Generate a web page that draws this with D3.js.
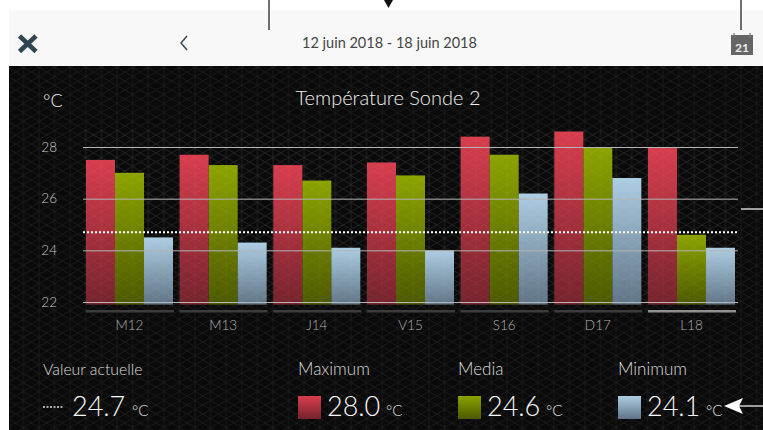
<!DOCTYPE html>
<html>
<head>
<meta charset="utf-8">
<script src="https://cdn.jsdelivr.net/npm/d3@7"></script>
<style>
  html, body { margin: 0; padding: 0; background: #fff; overflow: hidden; }
  text { font-family: Lato, sans-serif; }
</style>
</head>
<body>
<div id="chart"></div>
<script>

// Data
var days = ['M12', 'M13', 'J14', 'V15', 'S16', 'D17', 'L18'];
var series = ['Maximum', 'Media', 'Minimum'];
var maxValues = [27.5, 27.7, 27.3, 27.4, 28.4, 28.6, 28.0];
var meanValues = [27.0, 27.3, 26.7, 26.9, 27.7, 28.0, 24.6];
var minValues = [24.5, 24.3, 24.1, 24.0, 26.2, 26.8, 24.1];
var yTicks = [22, 24, 26, 28];
var currentValue = 24.7;
var legendValues = ['28.0', '24.6', '24.1'];

var seriesValues = [maxValues, meanValues, minValues];
var seriesColors = [
    ['#d83d4d', '#75232d'],
    ['#8ca300', '#4c5900'],
    ['#adcde2', '#5f7486']
];

var width = 763, height = 430;

var svg = d3.select('#chart').append('svg')
    .attr('width', width)
    .attr('height', height)
    .style('display', 'block');

var defs = svg.append('defs');

// Faint lattice behind the chart
var lattice = defs.append('pattern')
    .attr('id', 'lattice')
    .attr('patternUnits', 'userSpaceOnUse')
    .attr('width', 15.6)
    .attr('height', 18);
lattice.append('path')
    .attr('d', 'M0,0L15.6,9M0,9L15.6,18M-15.6,9L15.6,-9M0,9L15.6,0M0,18L15.6,9M7.8,0V18')
    .attr('stroke', '#fff')
    .attr('stroke-width', 0.7)
    .attr('fill', 'none');

seriesColors.forEach(function (c, i) {
    var grad = defs.append('linearGradient')
        .attr('id', 'grad' + i)
        .attr('x1', 0).attr('x2', 0).attr('y1', 0).attr('y2', 1);
    grad.append('stop').attr('offset', '0%').attr('stop-color', c[0]);
    grad.append('stop').attr('offset', '100%').attr('stop-color', c[1]);
});

// Page and panels
svg.append('rect').attr('x', 9).attr('y', 10).attr('width', width - 9).attr('height', 56)
    .attr('fill', '#f8f8f8');
svg.append('rect').attr('x', 9).attr('y', 66).attr('width', width - 9).attr('height', height - 66)
    .attr('fill', '#0a0a0a');
svg.append('rect').attr('x', 9).attr('y', 66).attr('width', width - 9).attr('height', height - 66)
    .attr('fill', 'url(#lattice)')
    .attr('opacity', 0.09);

// Scales
var x = d3.scaleBand().domain(days).range([86, 735]).paddingInner(0.0712);
var xInner = d3.scaleBand().domain(series).range([0, x.bandwidth()]);
var y = d3.scaleLinear().domain([22, 28]).range([302, 147]);
var barFloor = y(21.9);

// Bars
var groups = svg.selectAll('.day')
    .data(days)
    .enter().append('g')
    .attr('class', 'day')
    .attr('transform', function (d) { return 'translate(' + x(d) + ',0)'; });

groups.each(function (day, di) {
    d3.select(this).selectAll('rect')
        .data(series)
        .enter().append('rect')
        .attr('x', function (s) { return xInner(s); })
        .attr('y', function (s, si) { return y(seriesValues[si][di]); })
        .attr('width', xInner.bandwidth())
        .attr('height', function (s, si) { return barFloor - y(seriesValues[si][di]); })
        .attr('fill', function (s, si) { return 'url(#grad' + si + ')'; });
});

// Underline and label of every day
groups.append('rect')
    .attr('x', 0)
    .attr('y', 310)
    .attr('width', x.bandwidth() + 1)
    .attr('height', 2.5)
    .attr('fill', function (d) { return d === 'L18' ? '#909090' : '#3c3c3c'; });

groups.append('text')
    .attr('x', x.bandwidth() / 2)
    .attr('y', 330)
    .attr('text-anchor', 'middle')
    .attr('font-size', 13.5)
    .attr('font-weight', 300)
    .attr('fill', '#b0b0b0')
    .text(function (d) { return d; });

// Y axis with its grid lines
var yAxis = svg.append('g')
    .attr('transform', 'translate(83,0)')
    .call(d3.axisLeft(y).tickValues(yTicks).tickSize(-655).tickPadding(26).tickFormat(d3.format('d')));
yAxis.select('.domain').remove();
yAxis.selectAll('line').attr('stroke', '#b4b4b4').attr('stroke-width', 1);
yAxis.selectAll('text')
    .attr('font-size', 13.5)
    .attr('font-weight', 300)
    .attr('fill', '#c8c8c8')
    .style('font-family', 'Lato, sans-serif');

// Current value line
svg.append('line')
    .attr('x1', 83).attr('x2', 738)
    .attr('y1', y(currentValue)).attr('y2', y(currentValue))
    .attr('stroke', '#fff')
    .attr('stroke-width', 2)
    .attr('stroke-dasharray', '2 2');

// Texture over the bars as well
svg.append('rect').attr('x', 84).attr('y', 130).attr('width', 655).attr('height', 175)
    .attr('fill', 'url(#lattice)')
    .attr('opacity', 0.05);

// Titles
svg.append('text').attr('x', 43).attr('y', 107)
    .attr('font-size', 18).attr('font-weight', 300).attr('fill', '#f0f0f0').text('°C');
svg.append('text').attr('x', 388).attr('y', 105).attr('text-anchor', 'middle')
    .attr('font-size', 20).attr('font-weight', 300).attr('fill', '#f0f0f0').text('Température Sonde 2');

// Top bar
svg.append('text').attr('x', 389.5).attr('y', 47.5).attr('text-anchor', 'middle')
    .attr('font-size', 14.5).attr('fill', '#444').text('12 juin 2018 - 18 juin 2018');
svg.append('path').attr('d', 'M187,36L181,43L187,50')
    .attr('fill', 'none').attr('stroke', '#37474f').attr('stroke-width', 1.5);
svg.append('path').attr('d', 'M19.5,36L36,51.5M36,36L19.5,51.5')
    .attr('fill', 'none').attr('stroke', '#2f4552').attr('stroke-width', 4.5);

// Calendar icon
svg.append('rect').attr('x', 731).attr('y', 35).attr('width', 22).attr('height', 20).attr('fill', '#666');
svg.append('path').attr('d', 'M734,33V38M750,33V38').attr('stroke', '#777').attr('stroke-width', 1.2);
svg.append('text').attr('x', 742).attr('y', 52).attr('text-anchor', 'middle')
    .attr('font-size', 12).attr('font-weight', 700).attr('fill', '#eee').text('21');

// Legend
var legendX = [298, 458, 618];

function add_reading ( labelX, labelSize, valueX, unitX, label, value ) {
    svg.append('text').attr('x', labelX).attr('y', 375)
        .attr('font-size', labelSize).attr('font-weight', 300).attr('fill', '#dcdcdc').text(label);
    svg.append('text').attr('x', valueX).attr('y', 416)
        .attr('font-size', 27).attr('font-weight', 300).attr('fill', '#f8f8f8').text(value);
    svg.append('text').attr('x', unitX).attr('y', 416)
        .attr('font-size', 15).attr('font-weight', 300).attr('fill', '#e0e0e0').text('°C');
}

add_reading(43, 15.8, 72, 132, 'Valeur actuelle', String(currentValue));
svg.append('line').attr('x1', 43).attr('x2', 63).attr('y1', 407).attr('y2', 407)
    .attr('stroke', '#ddd').attr('stroke-width', 1.5).attr('stroke-dasharray', '2 1.5');

series.forEach(function (s, i) {
    var lx = legendX[i];
    add_reading(lx, 17, lx + 29, lx + 88, s, legendValues[i]);
    svg.append('rect').attr('x', lx).attr('y', 396).attr('width', 23).attr('height', 23)
        .attr('fill', 'url(#grad' + i + ')');
});

// Annotation marks around the screenshot
var black = '#111';
svg.append('line').attr('x1', 269).attr('x2', 269).attr('y1', 0).attr('y2', 30)
    .attr('stroke', black).attr('stroke-width', 1.2);
svg.append('path').attr('d', 'M384,0H393L388.5,8Z').attr('fill', black);
svg.append('line').attr('x1', 741).attr('x2', 741).attr('y1', 0).attr('y2', 30)
    .attr('stroke', black).attr('stroke-width', 1.2);
svg.append('line').attr('x1', 741).attr('x2', 763).attr('y1', 209).attr('y2', 209)
    .attr('stroke', '#fff').attr('stroke-width', 1.2);
svg.append('line').attr('x1', 735).attr('x2', 763).attr('y1', 406).attr('y2', 406)
    .attr('stroke', '#fff').attr('stroke-width', 1.2);
svg.append('path').attr('d', 'M724,406L743,398L739,406L743,414Z').attr('fill', '#fff');

</script>
</body>
</html>
